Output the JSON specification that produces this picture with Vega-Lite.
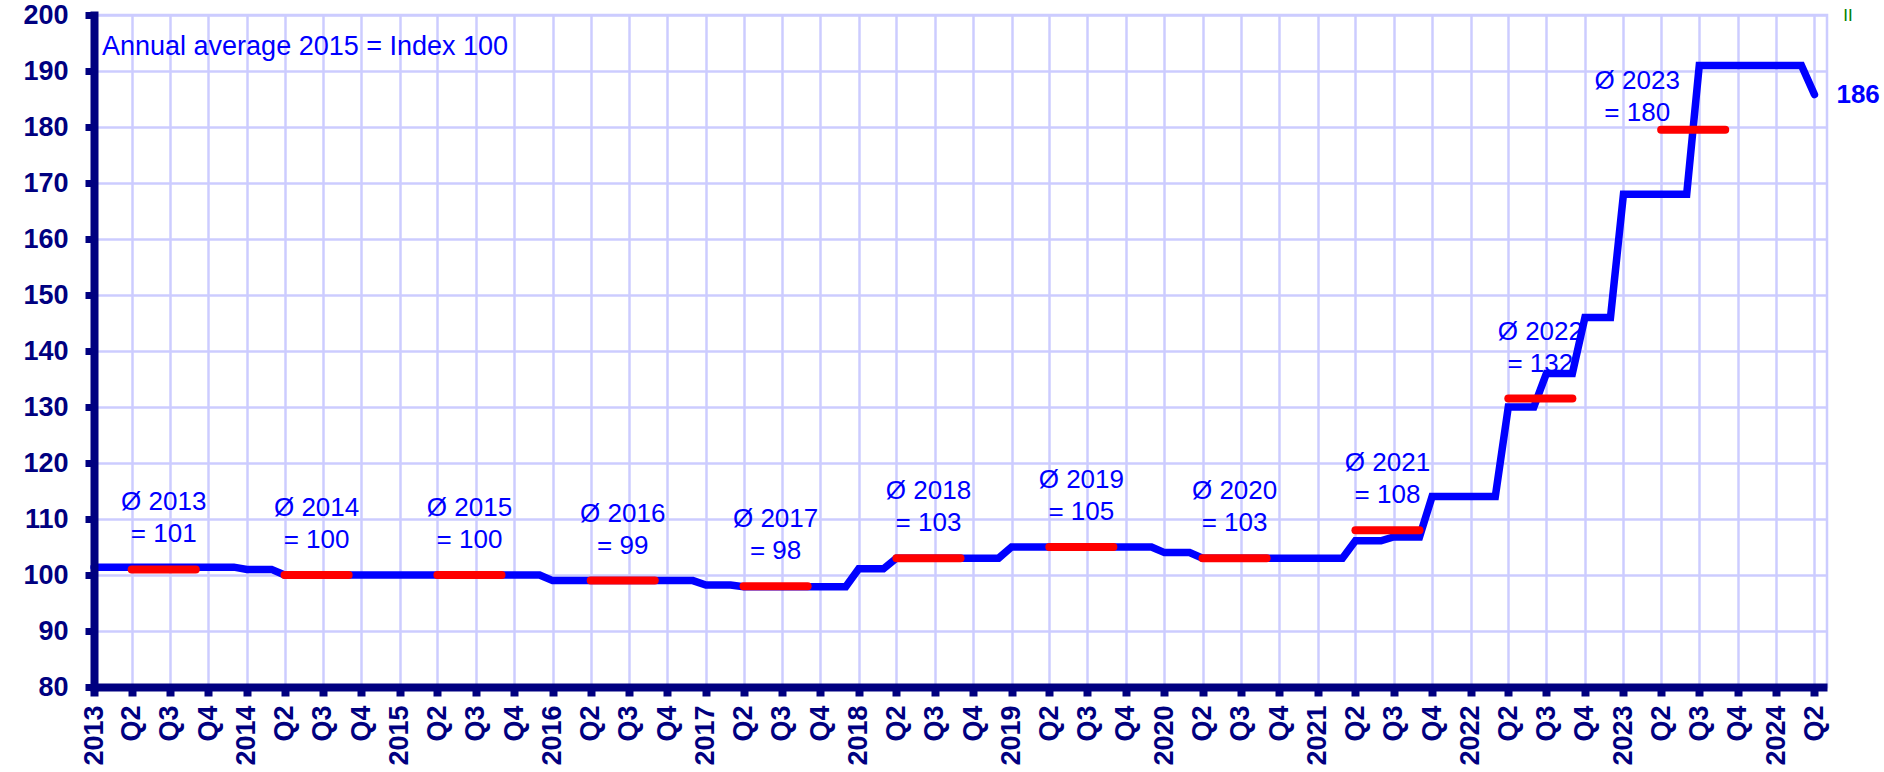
{
  "$schema": "https://vega.github.io/schema/vega-lite/v6.json",
  "autosize": "none",
  "width": 1733,
  "height": 672,
  "padding": {"left": 94, "top": 15, "right": 57, "bottom": 85},
  "background": "white",
  "config": {"view": {"stroke": "#CCCCFF", "strokeWidth": 2.5}, "font": "Liberation Sans"},
  "datasets": {
    "monthly": [
      {"date": "2013-01-01", "value": 101.4}, {"date": "2013-02-01", "value": 101.4}, {"date": "2013-03-01", "value": 101.4},
      {"date": "2013-04-01", "value": 101.4}, {"date": "2013-05-01", "value": 101.4}, {"date": "2013-06-01", "value": 101.4},
      {"date": "2013-07-01", "value": 101.4}, {"date": "2013-08-01", "value": 101.4}, {"date": "2013-09-01", "value": 101.4},
      {"date": "2013-10-01", "value": 101.4}, {"date": "2013-11-01", "value": 101.4}, {"date": "2013-12-01", "value": 101.4},
      {"date": "2014-01-01", "value": 101.0}, {"date": "2014-02-01", "value": 101.0}, {"date": "2014-03-01", "value": 101.0},
      {"date": "2014-04-01", "value": 100.0}, {"date": "2014-05-01", "value": 100.0}, {"date": "2014-06-01", "value": 100.0},
      {"date": "2014-07-01", "value": 100.0}, {"date": "2014-08-01", "value": 100.0}, {"date": "2014-09-01", "value": 100.0},
      {"date": "2014-10-01", "value": 100.0}, {"date": "2014-11-01", "value": 100.0}, {"date": "2014-12-01", "value": 100.0},
      {"date": "2015-01-01", "value": 100.0}, {"date": "2015-02-01", "value": 100.0}, {"date": "2015-03-01", "value": 100.0},
      {"date": "2015-04-01", "value": 100.0}, {"date": "2015-05-01", "value": 100.0}, {"date": "2015-06-01", "value": 100.0},
      {"date": "2015-07-01", "value": 100.0}, {"date": "2015-08-01", "value": 100.0}, {"date": "2015-09-01", "value": 100.0},
      {"date": "2015-10-01", "value": 100.0}, {"date": "2015-11-01", "value": 100.0}, {"date": "2015-12-01", "value": 100.0},
      {"date": "2016-01-01", "value": 99.0}, {"date": "2016-02-01", "value": 99.0}, {"date": "2016-03-01", "value": 99.0},
      {"date": "2016-04-01", "value": 99.0}, {"date": "2016-05-01", "value": 99.0}, {"date": "2016-06-01", "value": 99.0},
      {"date": "2016-07-01", "value": 99.0}, {"date": "2016-08-01", "value": 99.0}, {"date": "2016-09-01", "value": 99.0},
      {"date": "2016-10-01", "value": 99.0}, {"date": "2016-11-01", "value": 99.0}, {"date": "2016-12-01", "value": 99.0},
      {"date": "2017-01-01", "value": 98.2}, {"date": "2017-02-01", "value": 98.2}, {"date": "2017-03-01", "value": 98.2},
      {"date": "2017-04-01", "value": 97.9}, {"date": "2017-05-01", "value": 97.9}, {"date": "2017-06-01", "value": 97.9},
      {"date": "2017-07-01", "value": 97.9}, {"date": "2017-08-01", "value": 97.9}, {"date": "2017-09-01", "value": 97.9},
      {"date": "2017-10-01", "value": 97.9}, {"date": "2017-11-01", "value": 97.9}, {"date": "2017-12-01", "value": 97.9},
      {"date": "2018-01-01", "value": 101.1}, {"date": "2018-02-01", "value": 101.1}, {"date": "2018-03-01", "value": 101.1},
      {"date": "2018-04-01", "value": 103.0}, {"date": "2018-05-01", "value": 103.0}, {"date": "2018-06-01", "value": 103.0},
      {"date": "2018-07-01", "value": 103.0}, {"date": "2018-08-01", "value": 103.0}, {"date": "2018-09-01", "value": 103.0},
      {"date": "2018-10-01", "value": 103.0}, {"date": "2018-11-01", "value": 103.0}, {"date": "2018-12-01", "value": 103.0},
      {"date": "2019-01-01", "value": 105.0}, {"date": "2019-02-01", "value": 105.0}, {"date": "2019-03-01", "value": 105.0},
      {"date": "2019-04-01", "value": 105.0}, {"date": "2019-05-01", "value": 105.0}, {"date": "2019-06-01", "value": 105.0},
      {"date": "2019-07-01", "value": 105.0}, {"date": "2019-08-01", "value": 105.0}, {"date": "2019-09-01", "value": 105.0},
      {"date": "2019-10-01", "value": 105.0}, {"date": "2019-11-01", "value": 105.0}, {"date": "2019-12-01", "value": 105.0},
      {"date": "2020-01-01", "value": 104.0}, {"date": "2020-02-01", "value": 104.0}, {"date": "2020-03-01", "value": 104.0},
      {"date": "2020-04-01", "value": 103.0}, {"date": "2020-05-01", "value": 103.0}, {"date": "2020-06-01", "value": 103.0},
      {"date": "2020-07-01", "value": 103.0}, {"date": "2020-08-01", "value": 103.0}, {"date": "2020-09-01", "value": 103.0},
      {"date": "2020-10-01", "value": 103.0}, {"date": "2020-11-01", "value": 103.0}, {"date": "2020-12-01", "value": 103.0},
      {"date": "2021-01-01", "value": 103.0}, {"date": "2021-02-01", "value": 103.0}, {"date": "2021-03-01", "value": 103.0},
      {"date": "2021-04-01", "value": 106.1}, {"date": "2021-05-01", "value": 106.1}, {"date": "2021-06-01", "value": 106.1},
      {"date": "2021-07-01", "value": 106.8}, {"date": "2021-08-01", "value": 106.8}, {"date": "2021-09-01", "value": 106.8},
      {"date": "2021-10-01", "value": 114.0}, {"date": "2021-11-01", "value": 114.0}, {"date": "2021-12-01", "value": 114.0},
      {"date": "2022-01-01", "value": 114.0}, {"date": "2022-02-01", "value": 114.0}, {"date": "2022-03-01", "value": 114.0},
      {"date": "2022-04-01", "value": 130.0}, {"date": "2022-05-01", "value": 130.0}, {"date": "2022-06-01", "value": 130.0},
      {"date": "2022-07-01", "value": 136.0}, {"date": "2022-08-01", "value": 136.0}, {"date": "2022-09-01", "value": 136.0},
      {"date": "2022-10-01", "value": 146.0}, {"date": "2022-11-01", "value": 146.0}, {"date": "2022-12-01", "value": 146.0},
      {"date": "2023-01-01", "value": 168.0}, {"date": "2023-02-01", "value": 168.0}, {"date": "2023-03-01", "value": 168.0},
      {"date": "2023-04-01", "value": 168.0}, {"date": "2023-05-01", "value": 168.0}, {"date": "2023-06-01", "value": 168.0},
      {"date": "2023-07-01", "value": 191.0}, {"date": "2023-08-01", "value": 191.0}, {"date": "2023-09-01", "value": 191.0},
      {"date": "2023-10-01", "value": 191.0}, {"date": "2023-11-01", "value": 191.0}, {"date": "2023-12-01", "value": 191.0},
      {"date": "2024-01-01", "value": 191.0}, {"date": "2024-02-01", "value": 191.0}, {"date": "2024-03-01", "value": 191.0},
      {"date": "2024-04-01", "value": 185.8}
    ],
    "annual": [
      {"year": 2013, "start": "2013-04-01", "end": "2013-09-01", "avg": 101},
      {"year": 2014, "start": "2014-04-01", "end": "2014-09-01", "avg": 100},
      {"year": 2015, "start": "2015-04-01", "end": "2015-09-01", "avg": 100},
      {"year": 2016, "start": "2016-04-01", "end": "2016-09-01", "avg": 99},
      {"year": 2017, "start": "2017-04-01", "end": "2017-09-01", "avg": 98},
      {"year": 2018, "start": "2018-04-01", "end": "2018-09-01", "avg": 103},
      {"year": 2019, "start": "2019-04-01", "end": "2019-09-01", "avg": 105},
      {"year": 2020, "start": "2020-04-01", "end": "2020-09-01", "avg": 103},
      {"year": 2021, "start": "2021-04-01", "end": "2021-09-01", "avg": 108},
      {"year": 2022, "start": "2022-04-01", "end": "2022-09-01", "avg": 131.5},
      {"year": 2023, "start": "2023-04-01", "end": "2023-09-01", "avg": 179.5}
    ],
    "notes": [
      {"note": "Annual average 2015 = Index 100", "marker": "II"}
    ]
  },
  "layer": [
    {
      "data": {"name": "monthly"},
      "mark": {"type": "line", "color": "#0000FF", "strokeWidth": 7.5, "strokeCap": "round"},
      "encoding": {
        "x": {"field": "date", "type": "temporal",
              "scale": {"type": "utc", "nice": false, "domain": [{"year": 2013, "month": 1, "date": 1, "utc": true}, {"year": 2024, "month": 5, "date": 1, "utc": true}]},
              "axis": {"orient": "bottom", "grid": true, "gridColor": "#CCCCFF", "gridWidth": 2.5, "domain": false, "ticks": false, "labels": false, "title": null, "tickCount": {"interval": "month", "step": 3}, "zindex": 0}},
        "y": {"field": "value", "type": "quantitative",
              "scale": {"domain": [80, 200], "nice": false, "zero": false},
              "axis": {"orient": "left", "grid": true, "gridColor": "#CCCCFF", "gridWidth": 2.5, "domain": false, "ticks": false, "labels": false, "title": null, "values": [80, 90, 100, 110, 120, 130, 140, 150, 160, 170, 180, 190, 200], "zindex": 0}}
      }
    },
    {
      "data": {"name": "annual"},
      "mark": {"type": "rule", "color": "#FF0000", "strokeWidth": 8, "strokeCap": "round"},
      "encoding": {
        "x": {"field": "start", "type": "temporal",
              "scale": {"type": "utc", "nice": false, "domain": [{"year": 2013, "month": 1, "date": 1, "utc": true}, {"year": 2024, "month": 5, "date": 1, "utc": true}]},
              "axis": {"orient": "bottom", "grid": false, "domain": true, "domainColor": "#000080", "domainWidth": 8, "ticks": true, "tickColor": "#000080", "tickWidth": 8, "tickSize": 9,
                       "labelAngle": -90, "labelAlign": "right", "labelBaseline": "middle", "labelPadding": 9, "labelColor": "#000080", "labelFontSize": 27, "labelFontWeight": "bold", "labelFont": "Liberation Sans",
                       "labelOverlap": false, "labelFlush": false, "labelBound": false, "title": null, "tickCount": {"interval": "month", "step": 3},
                       "labelExpr": "utcmonth(datum.value) == 0 ? utcFormat(datum.value, '%Y') : 'Q' + (floor(utcmonth(datum.value) / 3) + 1)", "zindex": 1}},
        "x2": {"field": "end"},
        "y": {"field": "avg", "type": "quantitative",
              "scale": {"domain": [80, 200], "nice": false, "zero": false},
              "axis": {"orient": "left", "grid": false, "domain": true, "domainColor": "#000080", "domainWidth": 8, "domainCap": "square", "ticks": true, "tickColor": "#000080", "tickWidth": 7, "tickSize": 9,
                       "labelPadding": 17, "labelColor": "#000080", "labelFontSize": 27, "labelFontWeight": "bold", "labelFont": "Liberation Sans", "labelFlush": false, "labelBaseline": "middle",
                       "title": null, "values": [80, 90, 100, 110, 120, 130, 140, 150, 160, 170, 180, 190, 200], "zindex": 1}}
      }
    },
    {
      "data": {"name": "annual"},
      "transform": [
        {"filter": "datum.year != 2023"},
        {"calculate": "['Ø ' + datum.year, '= ' + format(datum.avg, '.0f')]", "as": "label"},
        {"calculate": "(time(datum.start) + time(datum.end)) / 2", "as": "mid"}
      ],
      "mark": {"type": "text", "fontSize": 26, "color": "#0000FF", "align": "center", "baseline": "middle", "lineHeight": 32, "dy": -67, "font": "Liberation Sans"},
      "encoding": {
        "x": {"field": "mid", "type": "temporal", "scale": {"type": "utc", "nice": false, "domain": [{"year": 2013, "month": 1, "date": 1, "utc": true}, {"year": 2024, "month": 5, "date": 1, "utc": true}]}, "axis": null},
        "y": {"field": "avg", "type": "quantitative", "scale": {"domain": [80, 200], "nice": false, "zero": false}, "axis": null},
        "text": {"field": "label"}
      }
    },
    {
      "data": {"name": "annual"},
      "transform": [
        {"filter": "datum.year == 2023"},
        {"calculate": "['Ø ' + datum.year, '= ' + format(datum.avg, '.0f')]", "as": "label"},
        {"calculate": "(time(datum.start) + time(datum.end)) / 2", "as": "mid"}
      ],
      "mark": {"type": "text", "fontSize": 26, "color": "#0000FF", "align": "center", "baseline": "middle", "lineHeight": 32, "dx": -56, "dy": -49, "font": "Liberation Sans"},
      "encoding": {
        "x": {"field": "mid", "type": "temporal", "scale": {"type": "utc", "nice": false, "domain": [{"year": 2013, "month": 1, "date": 1, "utc": true}, {"year": 2024, "month": 5, "date": 1, "utc": true}]}, "axis": null},
        "y": {"field": "avg", "type": "quantitative", "scale": {"domain": [80, 200], "nice": false, "zero": false}, "axis": null},
        "text": {"field": "label"}
      }
    },
    {
      "data": {"name": "monthly"},
      "transform": [
        {"window": [{"op": "row_number", "as": "rn"}], "sort": [{"field": "date", "order": "descending"}]},
        {"filter": "datum.rn == 1"}
      ],
      "mark": {"type": "text", "fontSize": 26, "fontWeight": "bold", "color": "#0000FF", "align": "left", "baseline": "middle", "dx": 22, "font": "Liberation Sans"},
      "encoding": {
        "x": {"field": "date", "type": "temporal", "scale": {"type": "utc", "nice": false, "domain": [{"year": 2013, "month": 1, "date": 1, "utc": true}, {"year": 2024, "month": 5, "date": 1, "utc": true}]}, "axis": null},
        "y": {"field": "value", "type": "quantitative", "scale": {"domain": [80, 200], "nice": false, "zero": false}, "axis": null},
        "text": {"field": "value", "type": "quantitative", "format": ".0f"}
      }
    },
    {
      "data": {"name": "notes"},
      "mark": {"type": "text", "fontSize": 27, "color": "#0000FF", "align": "left", "baseline": "alphabetic", "dx": 8, "dy": 40, "font": "Liberation Sans"},
      "encoding": {
        "x": {"datum": {"year": 2013, "month": 1, "date": 1, "utc": true}, "type": "temporal", "scale": {"type": "utc", "nice": false, "domain": [{"year": 2013, "month": 1, "date": 1, "utc": true}, {"year": 2024, "month": 5, "date": 1, "utc": true}]}, "axis": null},
        "y": {"datum": 200, "type": "quantitative", "scale": {"domain": [80, 200], "nice": false, "zero": false}, "axis": null},
        "text": {"field": "note"}
      }
    },
    {
      "data": {"name": "notes"},
      "mark": {"type": "text", "fontSize": 17, "color": "#008000", "align": "center", "baseline": "alphabetic", "dx": 21, "dy": 6, "font": "Liberation Sans"},
      "encoding": {
        "x": {"datum": {"year": 2024, "month": 5, "date": 1, "utc": true}, "type": "temporal", "scale": {"type": "utc", "nice": false, "domain": [{"year": 2013, "month": 1, "date": 1, "utc": true}, {"year": 2024, "month": 5, "date": 1, "utc": true}]}, "axis": null},
        "y": {"datum": 200, "type": "quantitative", "scale": {"domain": [80, 200], "nice": false, "zero": false}, "axis": null},
        "text": {"field": "marker"}
      }
    }
  ],
  "resolve": {"axis": {"x": "independent", "y": "independent"}}
}
